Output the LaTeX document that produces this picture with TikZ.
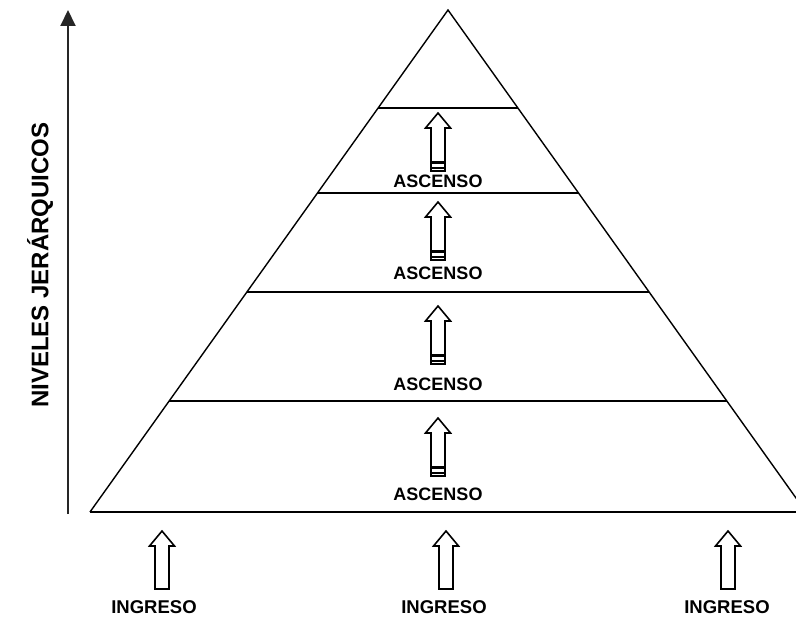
\documentclass[tikz,border=0pt]{standalone}
\usepackage{fontspec}
\setmainfont{Liberation Sans}
\usetikzlibrary{arrows.meta, positioning, calc}
\tikzset{
    levelline/.style={line width=1.4pt, black},
    axisarrow/.style={-{Triangle[length=16pt, width=15pt]}, line width=2pt, black!85},
    steplabel/.style={font=\bfseries\fontsize{18}{20}\selectfont, inner sep=0pt},
    inlabel/.style={font=\bfseries\fontsize{18.5}{20}\selectfont, inner sep=0pt},
    axislabel/.style={font=\bfseries\fontsize{24}{26}\selectfont, rotate=90, inner sep=0pt},
    blockup/.pic={
        \draw[line width=1.6pt, fill=white] (-7,0) -- (-7,-43) -- (-12.5,-43) -- (0,-58)
            -- (12.5,-43) -- (7,-43) -- (7,0) -- cycle;
    },
    blockstriped/.pic={
        \pic {blockup};
        \draw[line width=2.4pt] (-7,-3) -- (7,-3);
        \draw[line width=2.4pt] (-7,-8.5) -- (7,-8.5);
    },
}
\begin{document}
\begin{tikzpicture}[x=1pt, y=-1pt]
    \useasboundingbox (0,0) rectangle (796,618);
    % pyramid
    \coordinate (apex) at (448,10);
    \coordinate (baseL) at (90,512);
    \coordinate (baseR) at (806,512);
    \draw[levelline] (baseL) -- (apex) -- (baseR);
    \draw[levelline] (baseL) -- (796,512);
    \foreach \t [count=\i] in {0.1952, 0.3645, 0.5618, 0.7789} {
        \coordinate (lvlL\i) at ($(apex)!\t!(baseL)$);
        \coordinate (lvlR\i) at ($(apex)!\t!(baseR)$);
        \draw[levelline] (lvlL\i) -- (lvlR\i);
    }

    % vertical axis
    \coordinate (axbot) at (68,514);
    \coordinate (axtop) at (68,10);
    \draw[axisarrow] (axbot) -- (axtop);
    \node[axislabel] (axis) at (40,265) {NIVELES JERÁRQUICOS};

    % ascenso arrows
    \foreach \ybot/\ytxt [count=\i] in {171/181, 260/273, 364/384, 476/494} {
        \pic at (438,\ybot) {blockstriped};
        \node[steplabel] (asc\i) at (438,\ytxt) {ASCENSO};
    }

    % ingreso arrows
    \foreach \x/\xtxt [count=\i] in {162/154, 446/444, 728/727} {
        \pic at (\x,589) {blockup};
        \node[inlabel] (ing\i) at (\xtxt,607) {INGRESO};
    }
\end{tikzpicture}
\end{document}
